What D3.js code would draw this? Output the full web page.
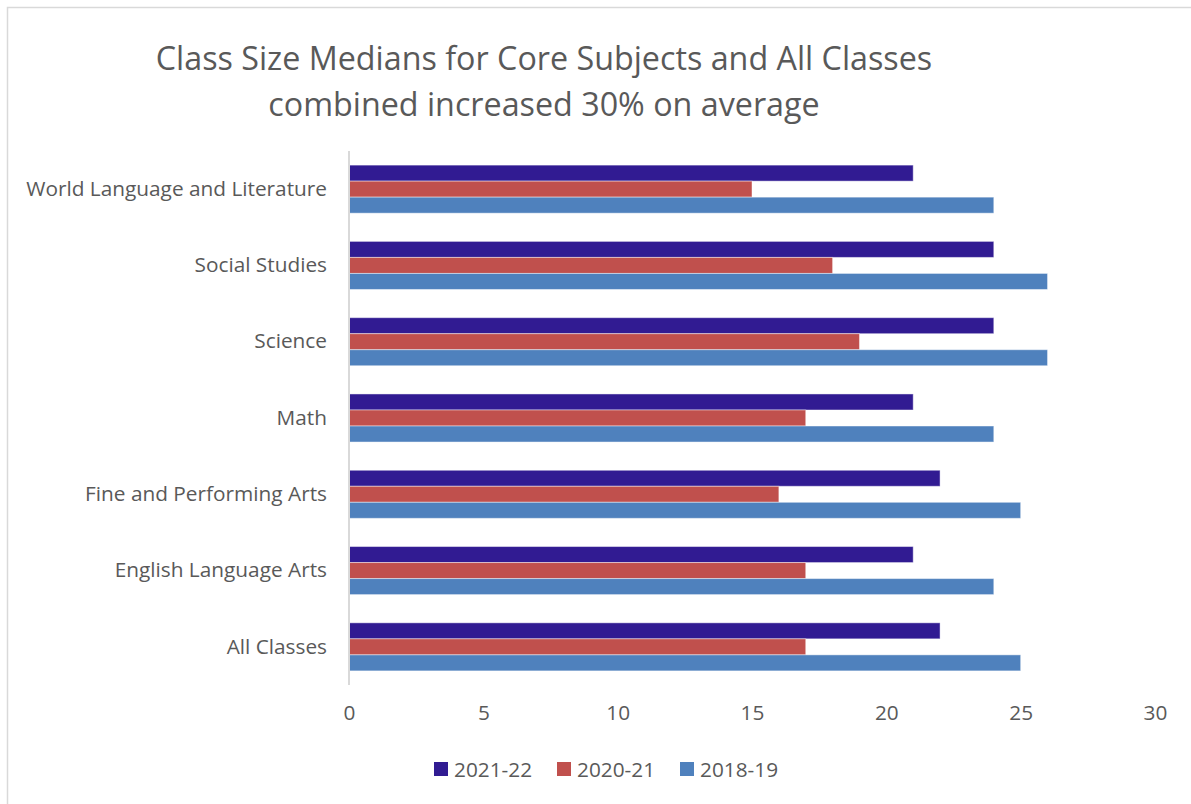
<!DOCTYPE html>
<html>
<head>
<meta charset="utf-8">
<script src="https://cdn.jsdelivr.net/npm/d3@7/dist/d3.min.js"></script>
<style>
  html, body { margin: 0; padding: 0; background: #fff; }
  svg { display: block; }
  text { font-family: "Open Sans", "Noto Sans", sans-serif; fill: #595959; }
</style>
</head>
<body>
<svg id="chart" width="1191" height="804"></svg>
<script>
const categories = ["World Language and Literature", "Social Studies", "Science", "Math",
  "Fine and Performing Arts", "English Language Arts", "All Classes"];
const seriesNames = ["2021-22", "2020-21", "2018-19"];
const values2021_22 = [21, 24, 24, 21, 22, 21, 22];
const values2020_21 = [15, 18, 19, 17, 16, 17, 17];
const values2018_19 = [24, 26, 26, 24, 25, 24, 25];
const seriesColors = ["#311B92", "#C0504D", "#4F81BD"];
const xTicks = [0, 5, 10, 15, 20, 25, 30];
const titleLines = ["Class Size Medians for Core Subjects and All Classes",
  "combined increased 30% on average"];

const seriesValues = [values2021_22, values2020_21, values2018_19];

const svg = d3.select("#chart");
const W = 1191, H = 804;

// outer chart border (top and left visible)
svg.append("rect").attr("x", 7.5).attr("y", 7.5).attr("width", W + 20).attr("height", H + 20)
  .attr("fill", "#fff").attr("stroke", "#D9D9D9").attr("stroke-width", 1.5);

const plot = { left: 349, right: 1155, top: 151, bottom: 685 };

const x = d3.scaleLinear().domain([0, 30]).range([plot.left, plot.right]);
const y = d3.scaleBand().domain(categories).range([plot.top, plot.bottom]).paddingInner(0.37).paddingOuter(0.185);
const ySub = d3.scaleBand().domain(seriesNames).range([0, y.bandwidth()]);

// helper to fit font size to target width
function fitText(sel, targetWidth, baseSize) {
  sel.attr("font-size", baseSize);
  const w = sel.node().getComputedTextLength();
  const s = baseSize * targetWidth / w;
  return s;
}

// Title
const t1 = svg.append("text").attr("x", 544).attr("y", 70).attr("text-anchor", "middle").text(titleLines[0]);
const tSize = fitText(t1, 777, 32);
t1.attr("font-size", tSize);
svg.append("text").attr("x", 544).attr("y", 116).attr("text-anchor", "middle")
  .attr("font-size", tSize).text(titleLines[1]);

// bars
const groups = svg.append("g").selectAll("g").data(categories).join("g")
  .attr("transform", d => `translate(0,${y(d)})`);
seriesNames.forEach((s, si) => {
  groups.append("rect")
    .attr("x", x(0))
    .attr("y", ySub(s))
    .attr("height", ySub.bandwidth())
    .attr("width", (d, i) => x(seriesValues[si][i]) - x(0))
    .attr("fill", seriesColors[si])
    .attr("stroke", "rgba(255,255,255,0.45)")
    .attr("stroke-width", 1);
});

// y axis line
svg.append("line").attr("x1", plot.left).attr("x2", plot.left)
  .attr("y1", plot.top).attr("y2", plot.bottom)
  .attr("stroke", "#D9D9D9").attr("stroke-width", 2);

// category labels
const probe = svg.append("text").text(categories[0]);
const labSize = fitText(probe, 301, 20);
probe.remove();
const yAxis = d3.axisLeft(y).tickSize(0).tickPadding(22);
const yg = svg.append("g").attr("transform", `translate(${plot.left},0)`).call(yAxis);
yg.select(".domain").remove();
yg.selectAll("text").attr("font-size", labSize).attr("fill", "#595959")
  .style("font-family", "'Open Sans', sans-serif");

// x axis labels
const xAxis = d3.axisBottom(x).tickValues(xTicks).tickSize(0).tickPadding(20).tickFormat(d3.format("d"));
const xg = svg.append("g").attr("transform", `translate(0,${plot.bottom})`).call(xAxis);
xg.select(".domain").remove();
xg.selectAll("text").attr("font-size", labSize).attr("fill", "#595959")
  .style("font-family", "'Open Sans', sans-serif");

// legend
const legendX = [434, 557, 680];
const lg = svg.append("g").selectAll("g").data(seriesNames).join("g")
  .attr("transform", (d, i) => `translate(${legendX[i]},762)`);
lg.append("rect").attr("width", 14).attr("height", 14).attr("fill", (d, i) => seriesColors[i]);
lg.append("text").attr("x", 20).attr("y", 14.5).attr("font-size", labSize).text(d => d);
</script>
</body>
</html>
